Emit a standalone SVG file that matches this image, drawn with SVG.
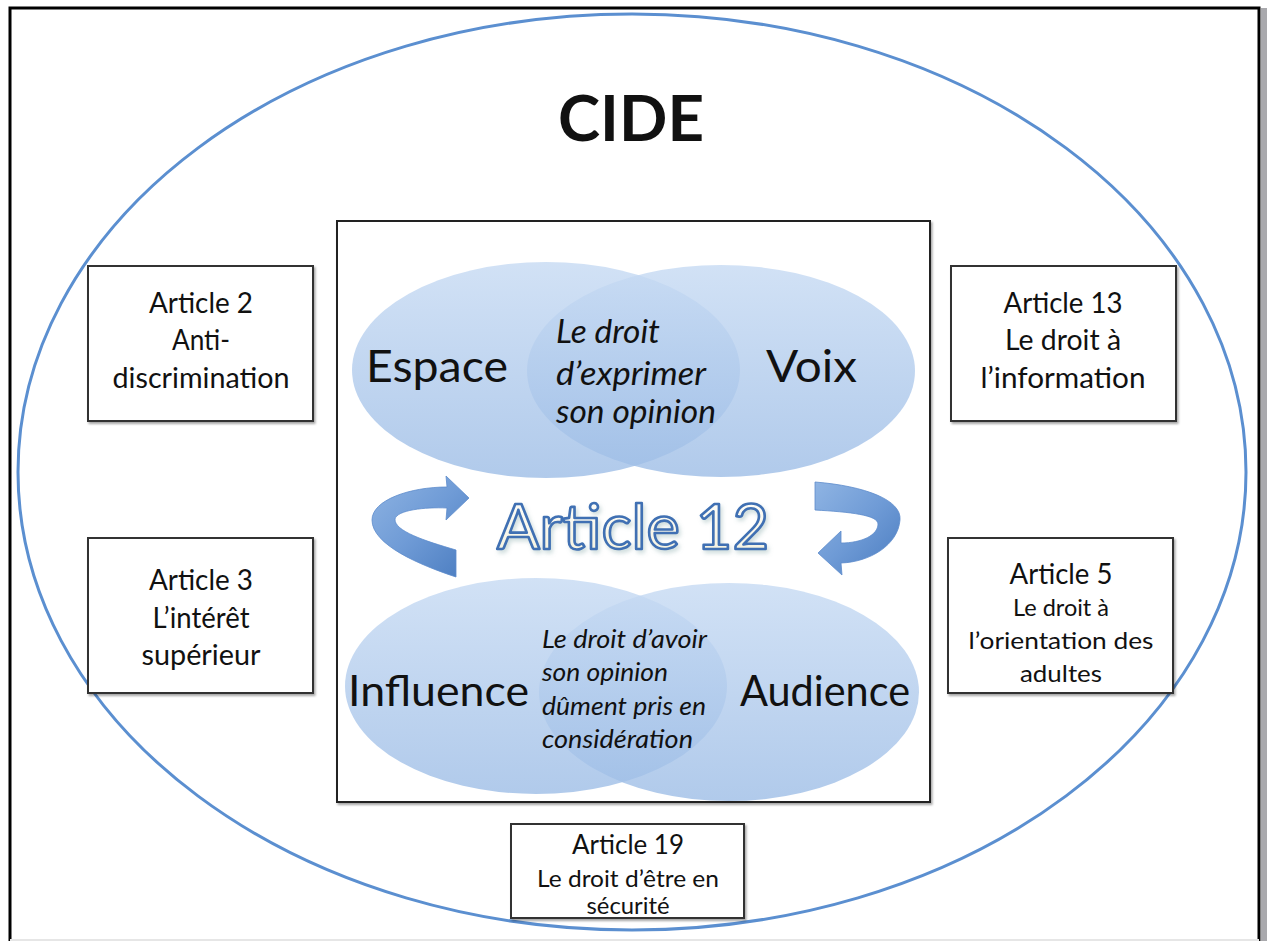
<svg xmlns="http://www.w3.org/2000/svg" width="1267" height="941" viewBox="0 0 1267 941">
<defs>
<style>
.box{fill:#fff;stroke:#333;stroke-width:2}
.t{font-family:Lato,"Open Sans","Liberation Sans",sans-serif;fill:#111;text-anchor:middle}
.big{font-family:Lato,"Open Sans","Liberation Sans",sans-serif;fill:#111}
.it{font-family:Lato,"Open Sans","Liberation Sans",sans-serif;font-style:italic;fill:#111}
.venn{fill:url(#vg);fill-opacity:0.8}
.arrow{fill:url(#ag);stroke:#5d8ccb;stroke-width:0.8}
</style>
<linearGradient id="vg" x1="0" y1="0" x2="0" y2="1">
<stop offset="0" stop-color="#c6daf3"/>
<stop offset="1" stop-color="#9dbde6"/>
</linearGradient>
<linearGradient id="ag" x1="0" y1="0" x2="1" y2="1">
<stop offset="0" stop-color="#8fb4e3"/>
<stop offset="0.5" stop-color="#6f9bd6"/>
<stop offset="1" stop-color="#4a7cc0"/>
</linearGradient>
<linearGradient id="tg" x1="0" y1="0" x2="0" y2="1">
<stop offset="0" stop-color="#ffffff"/>
<stop offset="1" stop-color="#f4f1dc"/>
</linearGradient>
<filter id="sh" x="-5%" y="-5%" width="110%" height="110%">
<feDropShadow dx="1.5" dy="2" stdDeviation="1.2" flood-color="#000" flood-opacity="0.35"/>
</filter>
<filter id="glow" x="-10%" y="-20%" width="120%" height="140%">
<feDropShadow dx="2" dy="3" stdDeviation="2" flood-color="#8aa" flood-opacity="0.4"/>
</filter>
</defs>
<rect width="1267" height="941" fill="#fff"/>
<g id="frame">
<path d="M10 941 V8 H1259 V941" fill="none" stroke="#000" stroke-width="3"/>
<rect x="1261" y="8" width="6" height="933" fill="#a9a9ad"/>
<line x1="10" y1="940" x2="1259" y2="940" stroke="#e6e6e6" stroke-width="2"/>
</g>
<g id="cide">
<ellipse cx="632" cy="472" rx="614" ry="458" fill="none" stroke="#5b8fd0" stroke-width="3"/>
<text class="t" x="631" y="141" font-size="64" font-weight="bold" textLength="146" lengthAdjust="spacingAndGlyphs">CIDE</text>
</g>
<g id="article12-frame">
<rect x="337" y="221" width="593" height="581" fill="#fff" stroke="#222" stroke-width="2" filter="url(#sh)"/>
</g>
<g id="venn-top">
<ellipse class="venn" cx="546" cy="370" rx="194" ry="108"/>
<ellipse class="venn" cx="721" cy="371" rx="194" ry="106"/>
<text class="big" x="366" y="382" font-size="44" textLength="142" lengthAdjust="spacingAndGlyphs">Espace</text>
<text class="big" x="766" y="382" font-size="44" textLength="91" lengthAdjust="spacingAndGlyphs">Voix</text>
<text class="it" x="556" y="343" font-size="32" textLength="104" lengthAdjust="spacingAndGlyphs">Le droit</text>
<text class="it" x="556" y="385" font-size="32" textLength="150" lengthAdjust="spacingAndGlyphs">d’exprimer</text>
<text class="it" x="556" y="423" font-size="32" textLength="160" lengthAdjust="spacingAndGlyphs">son opinion</text>
</g>
<g id="venn-bottom">
<ellipse class="venn" cx="536" cy="686" rx="191" ry="108"/>
<ellipse class="venn" cx="729" cy="692" rx="190" ry="109"/>
<text class="big" x="348" y="706" font-size="42" textLength="181" lengthAdjust="spacingAndGlyphs">Influence</text>
<text class="big" x="740" y="706" font-size="42" textLength="170" lengthAdjust="spacingAndGlyphs">Audience</text>
<text class="it" x="542" y="648" font-size="26" textLength="165" lengthAdjust="spacingAndGlyphs">Le droit d’avoir</text>
<text class="it" x="542" y="681" font-size="26" textLength="126" lengthAdjust="spacingAndGlyphs">son opinion</text>
<text class="it" x="542" y="715" font-size="26" textLength="164" lengthAdjust="spacingAndGlyphs">dûment pris en</text>
<text class="it" x="542" y="748" font-size="26" textLength="151" lengthAdjust="spacingAndGlyphs">considération</text>
</g>
<g id="article12">
<text x="633" y="549" font-family="Lato,'Open Sans','Liberation Sans',sans-serif" font-size="62" text-anchor="middle" fill="url(#tg)" stroke="#3f70b3" stroke-width="2.6" stroke-linejoin="round" textLength="272" lengthAdjust="spacingAndGlyphs" filter="url(#glow)">Article 12</text>
</g>
<g id="connectors">
<path class="arrow" d="M469 498 L446 476 L447 487 C410 487 372 500 372 520 C372 545 420 565 456 577 L456 550 C425 541 394 531 395 519 C397 510 425 507 447 508 L446 520 Z"/>
<path class="arrow" d="M815 482 C865 486 902 500 900 520 C898 545 870 562 841 563 L842 575 L818 553 L841 531 L841 543 C862 543 878 535 878 524 C878 515 850 512 815 510 Z"/>
</g>
<g id="article2">
<rect class="box" x="88" y="266" width="225" height="155" filter="url(#sh)"/>
<text class="t" x="201" y="313" font-size="28" textLength="104" lengthAdjust="spacingAndGlyphs">Article 2</text>
<text class="t" x="201" y="350" font-size="28" textLength="58" lengthAdjust="spacingAndGlyphs">Anti-</text>
<text class="t" x="201" y="388" font-size="28" textLength="177" lengthAdjust="spacingAndGlyphs">discrimination</text>
</g>
<g id="article3">
<rect class="box" x="88" y="538" width="225" height="155" filter="url(#sh)"/>
<text class="t" x="201" y="590" font-size="28" textLength="104" lengthAdjust="spacingAndGlyphs">Article 3</text>
<text class="t" x="201" y="628" font-size="28" textLength="97" lengthAdjust="spacingAndGlyphs">L’intérêt</text>
<text class="t" x="201" y="665" font-size="28" textLength="119" lengthAdjust="spacingAndGlyphs">supérieur</text>
</g>
<g id="article13">
<rect class="box" x="951" y="266" width="225" height="155" filter="url(#sh)"/>
<text class="t" x="1063" y="313" font-size="28" textLength="119" lengthAdjust="spacingAndGlyphs">Article 13</text>
<text class="t" x="1063" y="350" font-size="28" textLength="116" lengthAdjust="spacingAndGlyphs">Le droit à</text>
<text class="t" x="1063" y="388" font-size="28" textLength="165" lengthAdjust="spacingAndGlyphs">l’information</text>
</g>
<g id="article5">
<rect class="box" x="948" y="538" width="225" height="155" filter="url(#sh)"/>
<text class="t" x="1061" y="584" font-size="28" textLength="103" lengthAdjust="spacingAndGlyphs">Article 5</text>
<text class="t" x="1061" y="616" font-size="24" textLength="96" lengthAdjust="spacingAndGlyphs">Le droit à</text>
<text class="t" x="1061" y="649" font-size="24" textLength="185" lengthAdjust="spacingAndGlyphs">l’orientation des</text>
<text class="t" x="1061" y="682" font-size="24" textLength="82" lengthAdjust="spacingAndGlyphs">adultes</text>
</g>
<g id="article19">
<rect class="box" x="511" y="824" width="233" height="94" filter="url(#sh)"/>
<text class="t" x="628" y="854" font-size="26" textLength="112" lengthAdjust="spacingAndGlyphs">Article 19</text>
<text class="t" x="628" y="887" font-size="23" textLength="182" lengthAdjust="spacingAndGlyphs">Le droit d’être en</text>
<text class="t" x="628" y="914" font-size="23" textLength="83" lengthAdjust="spacingAndGlyphs">sécurité</text>
</g>
</svg>
